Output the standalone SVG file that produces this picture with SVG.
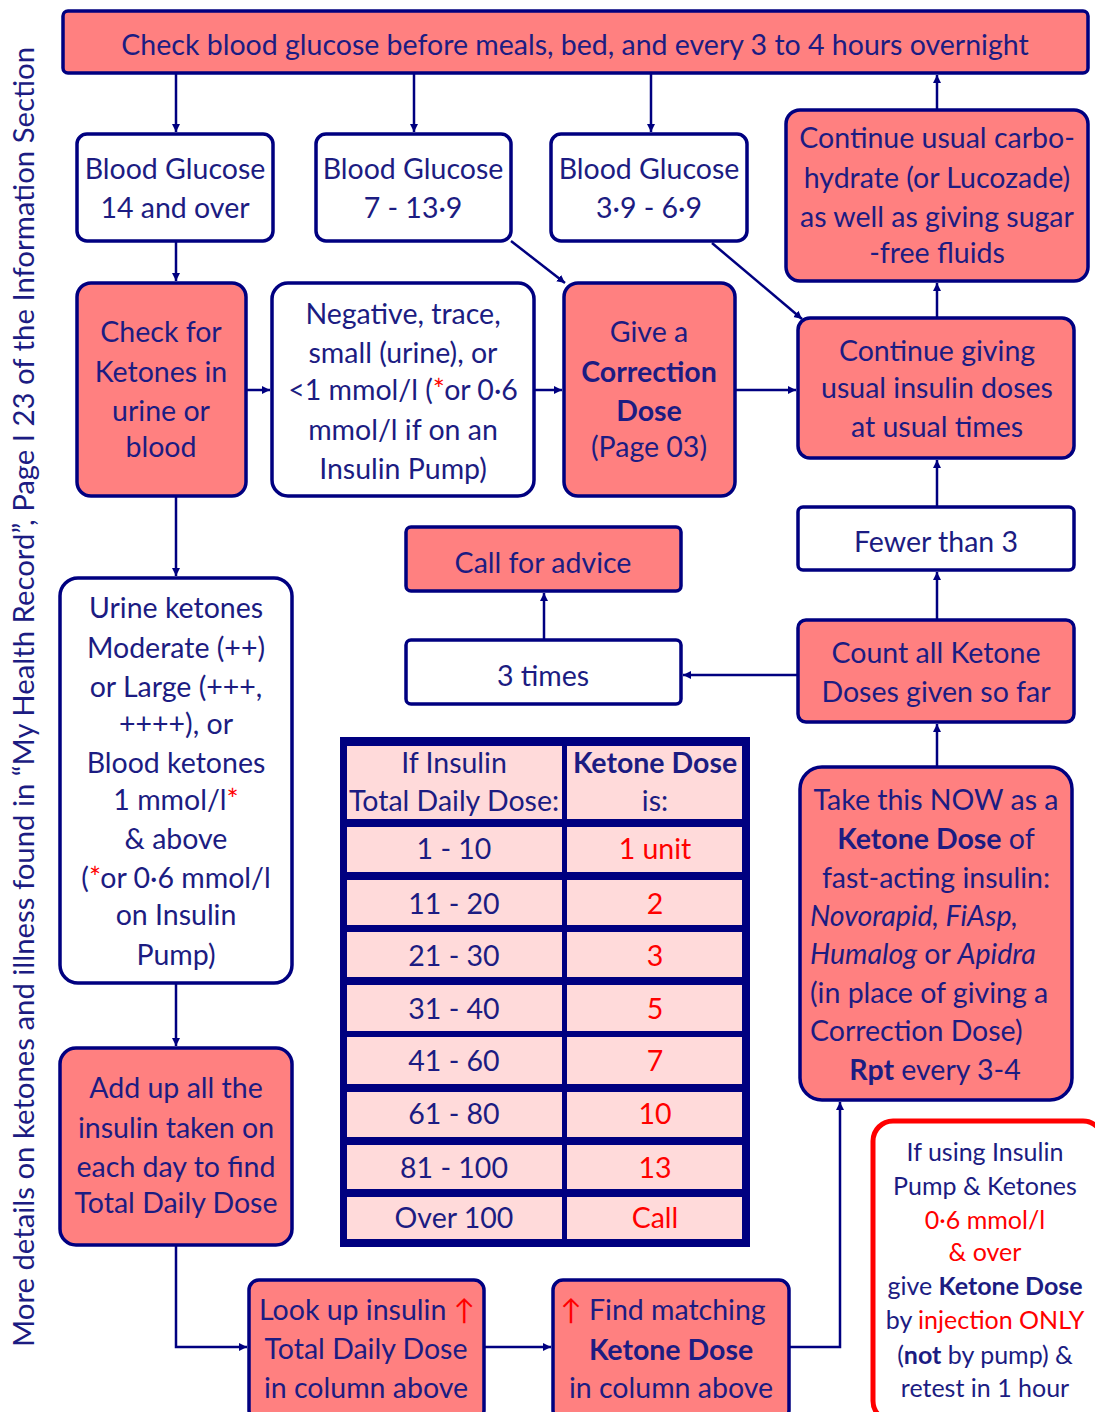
<svg xmlns="http://www.w3.org/2000/svg" width="1095" height="1412" viewBox="0 0 1095 1412">
<defs>
<marker id="a" markerUnits="userSpaceOnUse" markerWidth="9" markerHeight="9" refX="8" refY="4.5" orient="auto">
<path d="M0,0.5 L8,4.5 L0,8.5 z" fill="#000080"/>
</marker>
<style>
.n{fill:#FF8080;stroke:#000080;stroke-width:3.5}
.w{fill:#FFFFFF;stroke:#000080;stroke-width:3.5}
.t{font-family:Lato,"Open Sans",sans-serif;font-size:28.5px;fill:#1c1c82;text-anchor:middle}
.s{font-size:25px}
.l{text-anchor:start}
.b{font-weight:bold}
.i{font-style:italic}
.r{fill:#FF0000}
.cell{fill:#FFDADA}
#connectors path{stroke:#000080;stroke-width:2.5;fill:none;marker-end:url(#a)}
</style>
</defs>
<rect width="1095" height="1412" fill="#FFFFFF"/>

<g id="side-note">
<text class="t" transform="translate(34,697) rotate(-90)" style="font-size:28px" textLength="1300" lengthAdjust="spacingAndGlyphs">More details on ketones and illness found in “My Health Record”, Page I 23 of the Information Section</text>
</g>

<g id="connectors">
<path d="M176,74 V132"/>
<path d="M414,74 V132"/>
<path d="M651,74 V132"/>
<path d="M937,110 V75"/>
<path d="M937,318 V283"/>
<path d="M176,241 V281"/>
<path d="M511,241 L565,283"/>
<path d="M712,243 L802,319"/>
<path d="M246,390 H270"/>
<path d="M534,390 H562"/>
<path d="M735,390 H796"/>
<path d="M937,507 V460"/>
<path d="M937,620 V572"/>
<path d="M798,675 H683"/>
<path d="M544,640 V593"/>
<path d="M937,767 V724"/>
<path d="M176,496 V576"/>
<path d="M176,983 V1046"/>
<path d="M176,1245 V1347 H247"/>
<path d="M484,1347 H551"/>
<path d="M789,1347 H840 V1102"/>
</g>

<g id="top">
<rect class="n" x="63" y="11" width="1025" height="62" rx="5"/>
<text class="t" x="575" y="55">Check blood glucose before meals, bed, and every 3 to 4 hours overnight</text>
</g>

<g id="bg14">
<rect class="w" x="77" y="134" width="196" height="107" rx="10"/>
<text class="t" x="175" y="179">Blood Glucose</text>
<text class="t" x="175" y="218">14 and over</text>
</g>
<g id="bg7">
<rect class="w" x="316" y="134" width="195" height="107" rx="10"/>
<text class="t" x="413" y="179">Blood Glucose</text>
<text class="t" x="413" y="218">7 - 13·9</text>
</g>
<g id="bg39">
<rect class="w" x="551" y="134" width="196" height="107" rx="10"/>
<text class="t" x="649" y="179">Blood Glucose</text>
<text class="t" x="649" y="218">3·9 - 6·9</text>
</g>

<g id="carbo">
<rect class="n" x="786" y="110" width="302" height="171" rx="14"/>
<text class="t" x="937" y="148">Continue usual carbo-</text>
<text class="t" x="937" y="188">hydrate (or Lucozade)</text>
<text class="t" x="937" y="227">as well as giving sugar</text>
<text class="t" x="937" y="263">-free fluids</text>
</g>

<g id="check-ketones">
<rect class="n" x="77" y="283" width="169" height="213" rx="14"/>
<text class="t" x="161" y="342">Check for</text>
<text class="t" x="161" y="382">Ketones in</text>
<text class="t" x="161" y="421">urine or</text>
<text class="t" x="161" y="457">blood</text>
</g>

<g id="negative">
<rect class="w" x="272" y="283" width="262" height="213" rx="16"/>
<text class="t" x="403" y="324">Negative, trace,</text>
<text class="t" x="403" y="363">small (urine), or</text>
<text class="t" x="403" y="400">&lt;1 mmol/l (<tspan class="r">*</tspan>or 0·6</text>
<text class="t" x="403" y="440">mmol/l if on an</text>
<text class="t" x="403" y="479">Insulin Pump)</text>
</g>

<g id="correction">
<rect class="n" x="564" y="283" width="171" height="213" rx="14"/>
<text class="t" x="649" y="342">Give a</text>
<text class="t b" x="649" y="382">Correction</text>
<text class="t b" x="649" y="421">Dose</text>
<text class="t" x="649" y="457">(Page 03)</text>
</g>

<g id="continue-giving">
<rect class="n" x="798" y="318" width="276" height="140" rx="12"/>
<text class="t" x="937" y="361">Continue giving</text>
<text class="t" x="937" y="398">usual insulin doses</text>
<text class="t" x="937" y="437">at usual times</text>
</g>

<g id="call-advice">
<rect class="n" x="406" y="527" width="275" height="64" rx="5"/>
<text class="t" x="543" y="573">Call for advice</text>
</g>

<g id="three-times">
<rect class="w" x="406" y="640" width="275" height="64" rx="5"/>
<text class="t" x="543" y="686">3 times</text>
</g>

<g id="fewer">
<rect class="w" x="798" y="507" width="276" height="63" rx="5"/>
<text class="t" x="936" y="552">Fewer than 3</text>
</g>

<g id="count">
<rect class="n" x="798" y="620" width="276" height="102" rx="8"/>
<text class="t" x="936" y="663">Count all Ketone</text>
<text class="t" x="936" y="702">Doses given so far</text>
</g>

<g id="urine">
<rect class="w" x="60" y="578" width="232" height="405" rx="18"/>
<text class="t" x="176" y="618">Urine ketones</text>
<text class="t" x="176" y="658">Moderate (++)</text>
<text class="t" x="176" y="697">or Large (+++,</text>
<text class="t" x="176" y="734">++++), or</text>
<text class="t" x="176" y="773">Blood ketones</text>
<text class="t" x="176" y="810">1 mmol/l<tspan class="r">*</tspan></text>
<text class="t" x="176" y="849">&amp; above</text>
<text class="t" x="176" y="888">(<tspan class="r">*</tspan>or 0·6 mmol/l</text>
<text class="t" x="176" y="925">on Insulin</text>
<text class="t" x="176" y="965">Pump)</text>
</g>

<g id="add-up">
<rect class="n" x="60" y="1048" width="232" height="197" rx="16"/>
<text class="t" x="176" y="1098">Add up all the</text>
<text class="t" x="176" y="1138">insulin taken on</text>
<text class="t" x="176" y="1177">each day to find</text>
<text class="t" x="176" y="1213">Total Daily Dose</text>
</g>

<g id="table">
<rect x="340" y="737" width="410" height="510" fill="#000080"/>
<rect class="cell" x="347" y="746" width="215" height="73"/>
<rect class="cell" x="567" y="746" width="175" height="73"/>
<rect class="cell" x="347" y="827" width="215" height="45"/>
<rect class="cell" x="567" y="827" width="175" height="45"/>
<rect class="cell" x="347" y="880" width="215" height="45"/>
<rect class="cell" x="567" y="880" width="175" height="45"/>
<rect class="cell" x="347" y="932" width="215" height="45"/>
<rect class="cell" x="567" y="932" width="175" height="45"/>
<rect class="cell" x="347" y="985" width="215" height="46"/>
<rect class="cell" x="567" y="985" width="175" height="46"/>
<rect class="cell" x="347" y="1037" width="215" height="47"/>
<rect class="cell" x="567" y="1037" width="175" height="47"/>
<rect class="cell" x="347" y="1092" width="215" height="45"/>
<rect class="cell" x="567" y="1092" width="175" height="45"/>
<rect class="cell" x="347" y="1145" width="215" height="44"/>
<rect class="cell" x="567" y="1145" width="175" height="44"/>
<rect class="cell" x="347" y="1197" width="215" height="42"/>
<rect class="cell" x="567" y="1197" width="175" height="42"/>
<text class="t" x="454" y="773">If Insulin</text>
<text class="t" x="454" y="811">Total Daily Dose:</text>
<text class="t b" x="655" y="773">Ketone Dose</text>
<text class="t" x="655" y="811">is:</text>
<text class="t" x="454" y="859">1 - 10</text>
<text class="t r" x="655" y="859">1 unit</text>
<text class="t" x="454" y="914">11 - 20</text>
<text class="t r" x="655" y="914">2</text>
<text class="t" x="454" y="966">21 - 30</text>
<text class="t r" x="655" y="966">3</text>
<text class="t" x="454" y="1019">31 - 40</text>
<text class="t r" x="655" y="1019">5</text>
<text class="t" x="454" y="1071">41 - 60</text>
<text class="t r" x="655" y="1071">7</text>
<text class="t" x="454" y="1124">61 - 80</text>
<text class="t r" x="655" y="1124">10</text>
<text class="t" x="454" y="1178">81 - 100</text>
<text class="t r" x="655" y="1178">13</text>
<text class="t" x="454" y="1228">Over 100</text>
<text class="t r" x="655" y="1228">Call</text>
</g>

<g id="take-now">
<rect class="n" x="800" y="767" width="272" height="333" rx="22"/>
<text class="t" x="936" y="810">Take this NOW as a</text>
<text class="t" x="936" y="849"><tspan class="b">Ketone Dose</tspan> of</text>
<text class="t" x="936" y="888">fast-acting insulin:</text>
<text class="t l" x="810" y="926"><tspan class="i">Novorapid, FiAsp,</tspan></text>
<text class="t l" x="810" y="964"><tspan class="i">Humalog</tspan> or <tspan class="i">Apidra</tspan></text>
<text class="t l" x="810" y="1003">(in place of giving a</text>
<text class="t l" x="810" y="1041">Correction Dose)</text>
<text class="t" x="935" y="1080"><tspan class="b">Rpt</tspan> every 3-4</text>
</g>

<g id="look-up">
<rect class="n" x="249" y="1280" width="235" height="140" rx="10"/>
<text class="t" x="367" y="1320">Look up insulin <tspan class="r">↑</tspan></text>
<text class="t" x="366" y="1359">Total Daily Dose</text>
<text class="t" x="366" y="1398">in column above</text>
</g>

<g id="find-matching">
<rect class="n" x="553" y="1280" width="236" height="140" rx="10"/>
<text class="t" x="663" y="1320"><tspan class="r">↑</tspan> Find matching</text>
<text class="t b" x="671" y="1360">Ketone Dose</text>
<text class="t" x="671" y="1398">in column above</text>
</g>

<g id="pump-note">
<rect x="873" y="1121" width="230" height="300" rx="20" fill="#FFFFFF" stroke="#FF0000" stroke-width="5"/>
<text class="t s" x="985" y="1161">If using Insulin</text>
<text class="t s" x="985" y="1195">Pump &amp; Ketones</text>
<text class="t s r" x="985" y="1229">0·6 mmol/l</text>
<text class="t s r" x="985" y="1261">&amp; over</text>
<text class="t s" x="985" y="1295">give <tspan class="b">Ketone Dose</tspan></text>
<text class="t s" x="985" y="1329">by <tspan class="r">injection ONLY</tspan></text>
<text class="t s" x="985" y="1364">(<tspan class="b">not</tspan> by pump) &amp;</text>
<text class="t s" x="985" y="1397">retest in 1 hour</text>
</g>
</svg>
